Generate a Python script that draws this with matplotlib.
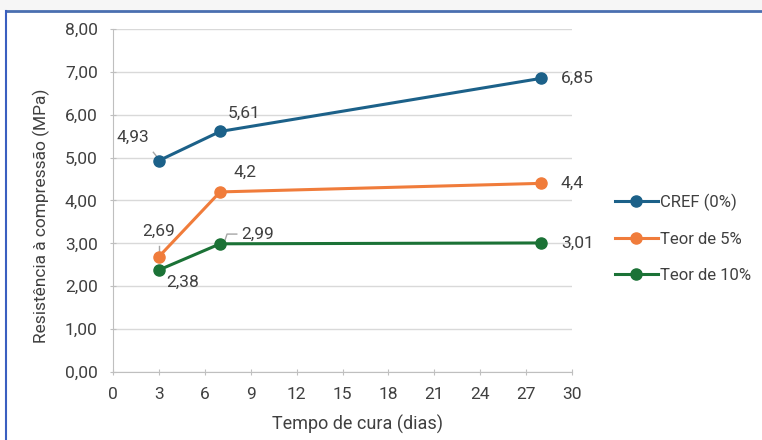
import matplotlib
matplotlib.use("Agg")
import matplotlib.pyplot as plt
from matplotlib.lines import Line2D
from matplotlib.patches import Rectangle

days = [3, 7, 28]
cref = [4.93, 5.61, 6.85]
teor5 = [2.69, 4.20, 4.40]
teor10 = [2.38, 2.99, 3.01]
labels_cref = ["4,93", "5,61", "6,85"]
labels_5 = ["2,69", "4,2", "4,4"]
labels_10 = ["2,38", "2,99", "3,01"]
series_names = ["CREF (0%)", "Teor de 5%", "Teor de 10%"]
xticks = list(range(0, 31, 3))
yticks = [0, 1, 2, 3, 4, 5, 6, 7, 8]

plt.rcParams['font.family'] = ["Roboto", "DejaVu Sans"]

c_blue = "#1c6189"
c_orange = "#f07c3b"
c_green = "#1b7236"
txt = "#404040"

fig = plt.figure(figsize=(7.62, 4.40), dpi=100)
fig.patch.set_facecolor("white")
fig.add_artist(Rectangle((0, 1 - 10/440), 1, 10/440, transform=fig.transFigure,
                         facecolor="#f6f6f6", edgecolor="none", zorder=0))
fig.add_artist(Line2D([6/762, 1], [1 - 11/440, 1 - 11/440], transform=fig.transFigure,
                      color="#4a6fb0", lw=2.0))
fig.add_artist(Line2D([6/762, 6/762], [0, 1 - 11/440], transform=fig.transFigure,
                      color="#3a5fc0", lw=1.5))

ax = fig.add_axes([113/762, 1 - 372/440, (572 - 113)/762, (372 - 29)/440])
ax.set_xlim(0, 30)
ax.set_ylim(0, 8)
ax.set_xticks(xticks)
ax.set_yticks(yticks)
ax.set_yticklabels([f"{v:.2f}".replace(".", ",") for v in yticks])
ax.grid(axis="y", color="#d9d9d9", lw=1)
ax.set_axisbelow(True)
for s in ["top", "right"]:
    ax.spines[s].set_visible(False)
for s in ["left", "bottom"]:
    ax.spines[s].set_color("#bfbfbf")
ax.tick_params(axis="both", colors="#bfbfbf", labelcolor=txt, labelsize=12.5, length=4, direction="inout")
ax.tick_params(axis="x", pad=9)
ax.tick_params(axis="y", pad=9)

for vals, col, name in [(cref, c_blue, series_names[0]), (teor5, c_orange, series_names[1]), (teor10, c_green, series_names[2])]:
    ax.plot(days, vals, color=col, lw=2.2, marker="o", ms=8, label=name, zorder=3)

fs = 12.5
def lab(x, y, s, dx, dy):
    ax.annotate(s, (x, y), xytext=(dx, dy), textcoords="offset points",
                fontsize=fs, color=txt, ha="center", va="center")

lab(3, cref[0], labels_cref[0], -19, 17)
lab(7, cref[1], labels_cref[1], 17, 13)
lab(28, cref[2], labels_cref[2], 26, 0)
lab(3, teor5[0], labels_5[0], 0, 18)
lab(7, teor5[1], labels_5[1], 18, 14)
lab(28, teor5[2], labels_5[2], 22, 0)
lab(3, teor10[0], labels_10[0], 17, -9)
lab(7, teor10[1], labels_10[1], 27, 7)
lab(28, teor10[2], labels_10[2], 26, 0)

def leader(x, y, pts):
    px, py = ax.transData.transform((x, y))
    disp = [(px + dx * fig.dpi / 72, py + dy * fig.dpi / 72) for dx, dy in pts]
    inv = ax.transData.inverted()
    data = [inv.transform(d) for d in disp]
    ax.plot([d[0] for d in data], [d[1] for d in data], color="#a6a6a6", lw=1, zorder=2)

leader(3, cref[0], [(-4, 6), (0, 1)])
leader(3, teor5[0], [(0, 8), (0, 3)])
leader(7, teor10[1], [(3, 1), (5, 7), (12, 7)])

ax.set_xlabel("Tempo de cura (dias)", fontsize=13, color=txt)
ax.set_ylabel("Resistência à compressão (MPa)", fontsize=12.5, color=txt)
ax.xaxis.set_label_coords(0.532, -0.125)
ax.yaxis.set_label_coords(-0.137, 0.455)

leg = ax.legend(loc="center left", bbox_to_anchor=(1.06, 0.39), frameon=False,
                fontsize=12, labelspacing=1.25, handlelength=2.6, handletextpad=0.1,
                labelcolor=txt)

fig.savefig("out.png", dpi=100)
